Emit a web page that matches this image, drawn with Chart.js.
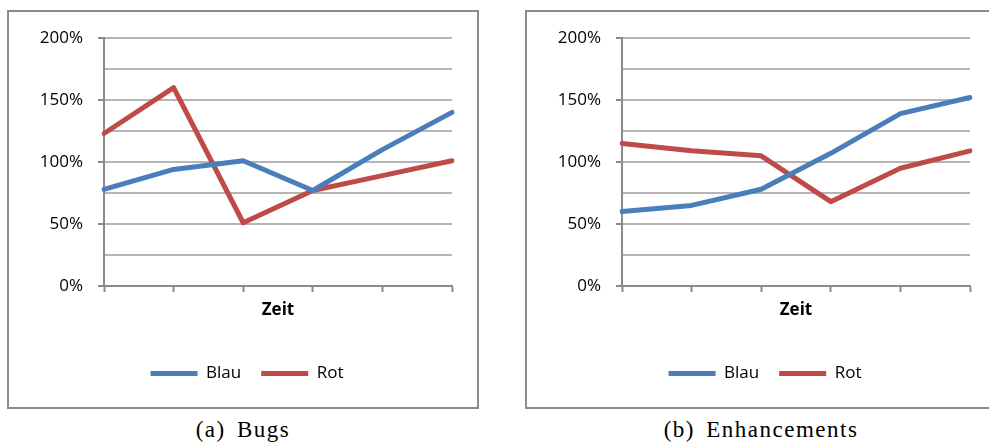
<!DOCTYPE html>
<html>
<head>
<meta charset="utf-8">
<script src="https://cdn.jsdelivr.net/npm/chart.js@4"></script>
<style>
  html, body { margin: 0; padding: 0; background: #fff; overflow: hidden; width: 989px; height: 448px; }
  .box { position: absolute; top: 10px; width: 468px; height: 395px; border: 2px solid #8c8c8c; }
  .box canvas { display: block; }
  .cap { position: absolute; top: 418px; width: 472px; text-align: center;
         font-family: 'Liberation Serif', serif; font-size: 23px; line-height: 23px;
         letter-spacing: 1.5px; word-spacing: 4px; color: #000; }
</style>
</head>
<body>
<div class="box" style="left:7px"><canvas id="bugs" width="468" height="395"></canvas></div>
<div class="box" style="left:525px"><canvas id="enh" width="468" height="395"></canvas></div>
<div class="cap" style="left:7px">(a) Bugs</div>
<div class="cap" style="left:525px">(b) Enhancements</div>
<script>
// six points in time, no labels shown on the axis
const zeitpunkte = ['1', '2', '3', '4', '5', '6'];

const bugsBlau = [78, 94, 101, 77, 110, 140];
const bugsRot = [123, 160, 51, 77, 89, 101];

const enhBlau = [60, 65, 78, 107, 139, 152];
const enhRot = [115, 109, 105, 68, 95, 109];

const blue = '#4a7ebb';
const red = '#be4b48';
const axisGray = '#8a8a8a';
const gridGray = '#b5b5b5';

Chart.defaults.font.family = "'Open Sans'";
Chart.defaults.font.size = 17;
Chart.defaults.color = '#000';

function makeChart(id, blau, rot) {
    const line = (label, data, color) => ({
        label,
        data,
        borderColor: color,
        backgroundColor: color,
        borderWidth: 5,
        borderCapStyle: 'round',
        borderJoinStyle: 'round',
        pointRadius: 0,
        tension: 0
    });

    return new Chart(document.getElementById(id), {
        type: 'line',
        data: {
            labels: zeitpunkte,
            datasets: [line('Blau', blau, blue), line('Rot', rot, red)]
        },
        options: {
            responsive: false,
            animation: false,
            devicePixelRatio: 1,
            layout: { padding: { top: 26, left: 8, right: 0, bottom: 15 } },
            plugins: {
                tooltip: { enabled: false },
                legend: {
                    position: 'bottom',
                    labels: {
                        usePointStyle: true,
                        pointStyle: 'line',
                        pointStyleWidth: 47,
                        padding: 20,
                        color: '#000'
                    }
                }
            },
            scales: {
                x: {
                    afterFit: s => { s.height = 59; s.paddingRight = 25; s.paddingLeft = 0; },
                    ticks: { callback: () => '', autoSkip: false },
                    grid: {
                        drawOnChartArea: false,
                        tickLength: 6,
                        tickWidth: 2,
                        tickColor: axisGray
                    },
                    border: { color: axisGray, width: 2 },
                    title: {
                        display: true,
                        text: 'Zeit',
                        font: { weight: 'bold', size: 17 },
                        padding: { top: 0, bottom: 25 }
                    }
                },
                y: {
                    min: 0,
                    max: 200,
                    afterFit: s => { s.width = 87; },
                    ticks: {
                        stepSize: 25,
                        padding: 15,
                        callback: v => (v % 50 === 0 ? v + '%' : '')
                    },
                    grid: {
                        lineWidth: 2,
                        tickLength: 6,
                        tickWidth: 2,
                        color: c => (c.tick && c.tick.value === 0 ? axisGray : gridGray),
                        tickColor: c => (c.tick && c.tick.value % 50 === 0 ? axisGray : 'rgba(0,0,0,0)')
                    },
                    border: { color: axisGray, width: 2 }
                }
            }
        }
    });
}

makeChart('bugs', bugsBlau, bugsRot);
makeChart('enh', enhBlau, enhRot);
</script>
</body>
</html>
